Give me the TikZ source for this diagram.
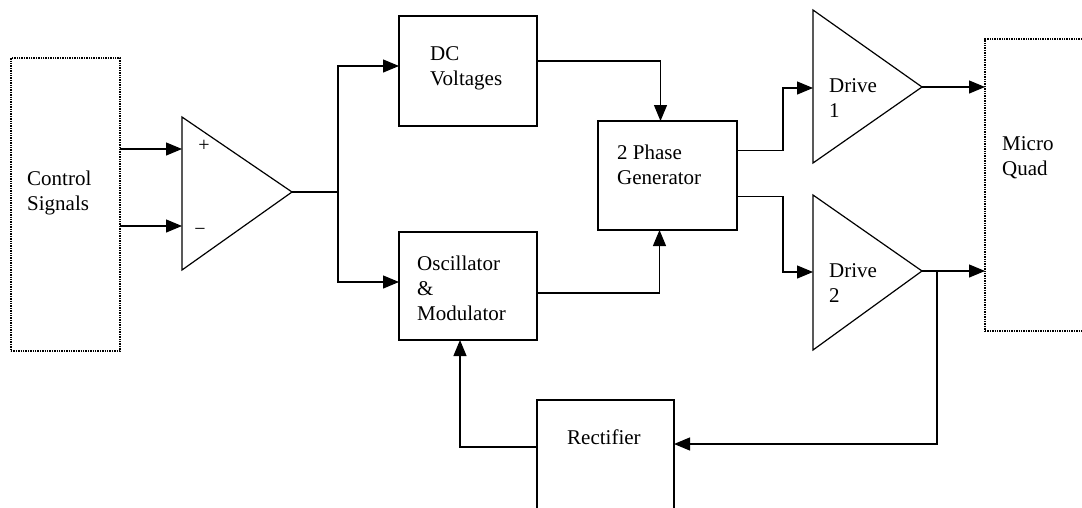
\documentclass[tikz,border=0pt]{standalone}
\usepackage{fontspec}
\setmainfont{Liberation Serif}
\usetikzlibrary{arrows.meta}

\tikzset{
  blk/.style={draw, line width=1.2pt, inner sep=0pt, outer sep=0pt},
  dotblk/.style={draw, line width=1.4pt, densely dotted, inner sep=0pt, outer sep=0pt},
  lbl/.style={font=\fontsize{21}{25}\selectfont, align=left, anchor=north west, inner sep=0pt},
  sgn/.style={font=\fontsize{20}{24}\selectfont, inner sep=0pt},
  wire/.style={line width=1.2pt},
  feed/.style={wire, -{Triangle[length=16pt,width=13pt]}},
}

\begin{document}
\begin{tikzpicture}[x=1pt,y=-1pt]
\clip (0,0) rectangle (1082,507);
% blocks
\node[dotblk, minimum width=109pt, minimum height=293pt] (ctl) at (65.5,204.5) {};
\node[lbl] (ctltxt) at (27,171) {Control\\Signals};
\node[blk, minimum width=138pt, minimum height=110pt] (dc) at (468,71) {};
\node[lbl] (dctxt) at (430,46) {DC\\Voltages};
\node[blk, minimum width=138pt, minimum height=108pt] (osc) at (468,286) {};
\node[lbl] (osctxt) at (417,256) {Oscillator\\\&\\Modulator};
\node[blk, minimum width=139pt, minimum height=109pt] (ph) at (667.5,175.5) {};
\node[lbl] (phtxt) at (617,145) {2 Phase\\Generator};
\node[blk, minimum width=137pt, minimum height=120pt] (rect) at (605.5,460) {};
\node[lbl] (recttxt) at (567,430) {Rectifier};
\node[dotblk, minimum width=115pt, minimum height=292pt] (mq) at (1042.5,185) {};
\node[lbl] (mqtxt) at (1002,136) {Micro\\Quad};
% amplifiers
\draw[wire, line join=miter] (182,117) -- (292,192) -- (182,270) -- cycle;
\coordinate (opp) at (182,149);
\coordinate (opm) at (182,226);
\coordinate (opout) at (292,192);
\node[sgn] (plus) at (204,146) {+};
\node[sgn] (minus) at (200,232) {−};
\draw[wire, line join=miter] (813,10) -- (922,87) -- (813,163) -- cycle;
\coordinate (d1in) at (813,88);
\coordinate (d1out) at (922,87);
\node[lbl] (d1txt) at (829,78) {Drive\\1};
\draw[wire, line join=miter] (813,195) -- (922,271) -- (813,350) -- cycle;
\coordinate (d2in) at (813,272);
\coordinate (d2out) at (922,271);
\node[lbl] (d2txt) at (829,263) {Drive\\2};
% connectors
\coordinate (split) at (338,192);
\coordinate (tap) at (937,271);
\draw[feed] (ctl.east |- opp) -- (opp);
\draw[feed] (ctl.east |- opm) -- (opm);
\draw[wire] (opout) -- (split);
\draw[feed] (split) |- ([yshift=5pt]dc.west);
\draw[feed] (split) |- ([yshift=4pt]osc.west);
\draw[feed] ([yshift=10pt]dc.east) -| ([xshift=-7pt]ph.north);
\draw[feed] ([yshift=-7pt]osc.east) -| ([xshift=-8pt]ph.south);
\draw[feed] ([yshift=25pt]ph.east) -- ++(46,0) |- (d1in);
\draw[feed] ([yshift=-21pt]ph.east) -- ++(46,0) |- (d2in);
\draw[feed] (d1out) -- (mq.west |- d1out);
\draw[feed] (d2out) -- (mq.west |- d2out);
\draw[feed] (tap) |- ([yshift=16pt]rect.east);
\draw[feed] ([yshift=13pt]rect.west) -| ([xshift=-8pt]osc.south);
\end{tikzpicture}
\end{document}
